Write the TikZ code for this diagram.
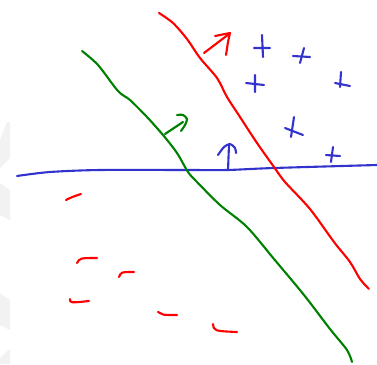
\documentclass[tikz,border=0pt]{standalone}
\begin{document}
\begin{tikzpicture}[x=1pt,y=-1pt,
  pen/.style={line width=2.1pt,line cap=round,line join=round},
  redpen/.style={pen,draw={rgb,255:red,255;green,0;blue,0}},
  greenpen/.style={pen,draw={rgb,255:red,0;green,128;blue,0}},
  bluepen/.style={pen,draw={rgb,255:red,50;green,50;blue,205}},
  wmark/.style={fill=black!5,draw=none}]
\useasboundingbox (0,0) rectangle (377,364);
% faint watermark
\fill[wmark] (0,140) -- (7,122) -- (10,122) -- (10,158) -- (0,168) -- cycle;
\fill[wmark] (0,183) -- (10,190) -- (10,220) -- (0,215) -- cycle;
\fill[wmark] (0,293) -- (10,300) -- (10,330) -- (0,325) -- cycle;
\fill[wmark] (0,364) -- (0,358) -- (8,350) -- (10,350) -- (10,364) -- cycle;
% blue line
\draw[bluepen] plot[smooth] coordinates {(17,176) (50,172) (100,170) (187,170) (227,170) (274,168) (377,165)};
% green line
\draw[greenpen] plot[smooth] coordinates {(82,51) (98,65) (118,91) (130,100) (147,117) (163,135) (177,153) (188,172) (197,182) (220,205) (247,227) (274,259) (304,295) (330,329) (347,350) (352,362)};
% red line
\draw[redpen] plot[smooth] coordinates {(159,13) (173,23) (187,39) (200,58) (217,78) (227,97) (240,117) (257,143) (274,167) (285,182) (310,209) (334,242) (350,262) (360,279) (369,289)};
% green arrow
\draw[greenpen] (165,134) -- (183,122);
\draw[greenpen] plot[smooth] coordinates {(177,115) (183,115) (187,119) (185,125) (181,131)};
% red arrow
\draw[redpen] (204,53) -- (229,34);
\draw[redpen] (215,36) -- (230,33) -- (228,42) -- (226,55);
% blue arrow
\draw[bluepen] (228,170) -- (229,145);
\draw[bluepen] plot[smooth] coordinates {(218,155) (224,147) (230,144) (235,148) (236,153)};
% blue plus signs
\draw[bluepen] (262,35) -- (263,57) (254,48) -- (270,48);
\draw[bluepen] (304,48) -- (300,63) (293,56) -- (310,57);
\draw[bluepen] (255,75) -- (255,92) (246,83) -- (264,85);
\draw[bluepen] (341,72) -- (340,87) (335,83) -- (350,86);
\draw[bluepen] (294,117) -- (291,137) (285,128) -- (303,135);
\draw[bluepen] (333,147) -- (331,162) (326,155) -- (340,156);
% red dashes
\draw[redpen] (66,200) .. controls (72,197) .. (81,194);
\draw[redpen] (77,263) .. controls (80,258) .. (97,258);
\draw[redpen] (119,277) .. controls (121,272) .. (134,272);
\draw[redpen] (70,299) .. controls (70,303) .. (89,301);
\draw[redpen] (158,312) .. controls (162,315) .. (177,315);
\draw[redpen] (213,324) .. controls (214,331) .. (237,332);
\end{tikzpicture}
\end{document}
